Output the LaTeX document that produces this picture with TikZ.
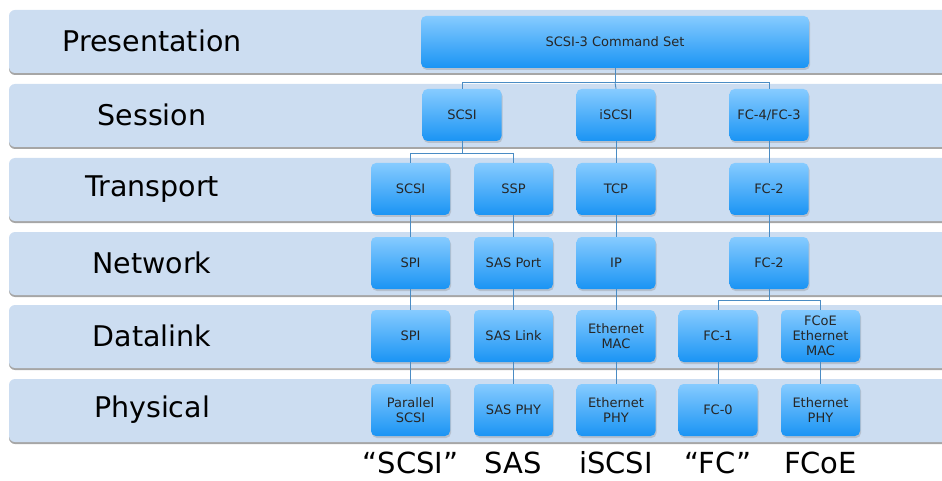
\documentclass[tikz,border=0pt]{standalone}
\usepackage{fontspec}
\setmainfont{DejaVu Sans}
\usetikzlibrary{shadows}
\definecolor{bandblue}{HTML}{CCDDF1}
\definecolor{boxtop}{HTML}{86CBFF}
\definecolor{boxbot}{HTML}{1A94F4}
\definecolor{linkblue}{HTML}{4A8CC4}
\tikzset{
  band/.style={fill=bandblue,rounded corners=6pt},
  bandshadow/.style={fill=black!35,rounded corners=6pt},
  blk/.style={rounded corners=5pt,top color=boxtop,bottom color=boxbot,draw=none,
    minimum width=79pt,minimum height=52pt,inner sep=1pt,align=center,
    font=\fontsize{13}{14.8}\selectfont,text=black!85,
    drop shadow={opacity=0.3,shadow xshift=1pt,shadow yshift=-2pt}},
  link/.style={draw=linkblue,line width=0.9pt},
  layer/.style={font=\fontsize{28.5}{31}\selectfont},
  proto/.style={font=\fontsize{29}{32}\selectfont,inner sep=0pt,anchor=base}
}
\begin{document}
\begin{tikzpicture}[x=1pt,y=-1pt]
    \useasboundingbox (0,0) rectangle (942,481);
    \foreach \t/\name in {10/Presentation,84/Session,158/Transport,232/Network,305/Datalink,379/Physical}{
        \fill[bandshadow] (9,\t+2) rectangle (960,\t+65);
        \fill[band] (9,\t) rectangle (960,\t+63);
        \node[layer] at (152,\t+31) {\name};
    }
    \node[blk,minimum width=388pt] (cmd) at (615,42) {SCSI-3 Command Set};
    \node[blk] (sscsi) at (462,115) {SCSI};
    \node[blk] (siscsi) at (616,115) {iSCSI};
    \node[blk] (sfc) at (769,115) {FC-4/FC-3};
    \node[blk] (tscsi) at (410.5,189) {SCSI};
    \node[blk] (tssp) at (513.5,189) {SSP};
    \node[blk] (ttcp) at (616,189) {TCP};
    \node[blk] (tfc) at (769,189) {FC-2};
    \node[blk] (nspi) at (410.5,263) {SPI};
    \node[blk] (nsas) at (513.5,263) {SAS Port};
    \node[blk] (nip) at (616,263) {IP};
    \node[blk] (nfc) at (769,263) {FC-2};
    \node[blk] (dspi) at (410.5,336) {SPI};
    \node[blk] (dsas) at (513.5,336) {SAS Link};
    \node[blk] (deth) at (616,336) {Ethernet\\MAC};
    \node[blk] (dfc) at (718,336) {FC-1};
    \node[blk] (dfcoe) at (820.5,336) {FCoE\\Ethernet\\MAC};
    \node[blk] (pscsi) at (410.5,410) {Parallel\\SCSI};
    \node[blk] (psas) at (513.5,410) {SAS PHY};
    \node[blk] (peth) at (616,410) {Ethernet\\PHY};
    \node[blk] (pfc) at (718,410) {FC-0};
    \node[blk] (pfcoe) at (820.5,410) {Ethernet\\PHY};
    % splits
    \coordinate (splcmd) at ([yshift=-14pt]cmd.south);
    \coordinate (splscsi) at ([yshift=-12pt]sscsi.south);
    \coordinate (splfc) at ([yshift=-11pt]nfc.south);
    \draw[link] (cmd.south) -- (splcmd);
    \draw[link] (sscsi.north) |- (splcmd);
    \draw[link] (sfc.north) |- (splcmd);
    \draw[link] (siscsi.north) -- (splcmd);
    \draw[link] (sscsi.south) -- (splscsi);
    \draw[link] (tscsi.north) |- (splscsi);
    \draw[link] (tssp.north) |- (splscsi);
    \draw[link] (nfc.south) -- (splfc);
    \draw[link] (dfc.north) |- (splfc);
    \draw[link] (dfcoe.north) |- (splfc);
    \draw[link] (siscsi) -- (ttcp);
    \draw[link] (sfc) -- (tfc);
    \draw[link] (tscsi) -- (nspi) (nspi) -- (dspi) (dspi) -- (pscsi);
    \draw[link] (tssp) -- (nsas) (nsas) -- (dsas) (dsas) -- (psas);
    \draw[link] (ttcp) -- (nip) (nip) -- (deth) (deth) -- (peth);
    \draw[link] (tfc) -- (nfc);
    \draw[link] (dfc) -- (pfc);
    \draw[link] (dfcoe) -- (pfcoe);
    \node[proto] (lscsi) at (410.5,473) {“SCSI”};
    \node[proto] (lsas) at (513.5,473) {SAS};
    \node[proto] (liscsi) at (616,473) {iSCSI};
    \node[proto] (lfc) at (718,473) {“FC”};
    \node[proto] (lfcoe) at (820.5,473) {FCoE};
\end{tikzpicture}
\end{document}
